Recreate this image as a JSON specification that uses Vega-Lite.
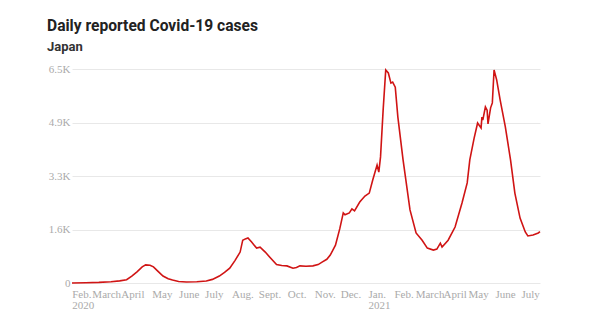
{
  "$schema": "https://vega.github.io/schema/vega-lite/v6.json",
  "autosize": {"type": "none"},
  "padding": {"left": 72, "top": 69, "right": 60, "bottom": 38},
  "width": 468,
  "height": 214,
  "background": "white",
  "title": {
    "text": "Daily reported Covid-19 cases",
    "subtitle": "Japan",
    "anchor": "start",
    "frame": "group",
    "dx": -25,
    "offset": 9,
    "font": "Roboto",
    "fontSize": 15.6,
    "fontWeight": "bold",
    "color": "#222222",
    "subtitleFont": "Roboto",
    "subtitleFontSize": 13,
    "subtitleFontWeight": "bold",
    "subtitleColor": "#333333",
    "subtitlePadding": 6
  },
  "config": {"view": {"stroke": null}},
  "data": {
    "values": [
      {"date": "2020-01-30", "cases": 2},
      {"date": "2020-02-15", "cases": 8},
      {"date": "2020-03-01", "cases": 18},
      {"date": "2020-03-15", "cases": 38},
      {"date": "2020-03-25", "cases": 65},
      {"date": "2020-04-02", "cases": 100},
      {"date": "2020-04-08", "cases": 210},
      {"date": "2020-04-14", "cases": 340},
      {"date": "2020-04-20", "cases": 490},
      {"date": "2020-04-24", "cases": 550},
      {"date": "2020-04-29", "cases": 540},
      {"date": "2020-05-03", "cases": 490},
      {"date": "2020-05-08", "cases": 360},
      {"date": "2020-05-14", "cases": 210},
      {"date": "2020-05-20", "cases": 130},
      {"date": "2020-05-25", "cases": 90},
      {"date": "2020-06-01", "cases": 45},
      {"date": "2020-06-10", "cases": 30},
      {"date": "2020-06-22", "cases": 40},
      {"date": "2020-07-03", "cases": 60},
      {"date": "2020-07-10", "cases": 110},
      {"date": "2020-07-18", "cases": 210},
      {"date": "2020-07-24", "cases": 320},
      {"date": "2020-07-30", "cases": 450},
      {"date": "2020-08-05", "cases": 680},
      {"date": "2020-08-11", "cases": 940},
      {"date": "2020-08-14", "cases": 1300},
      {"date": "2020-08-17", "cases": 1340},
      {"date": "2020-08-20", "cases": 1370},
      {"date": "2020-08-24", "cases": 1250},
      {"date": "2020-08-30", "cases": 1060},
      {"date": "2020-09-03", "cases": 1090},
      {"date": "2020-09-09", "cases": 940},
      {"date": "2020-09-14", "cases": 790},
      {"date": "2020-09-22", "cases": 560},
      {"date": "2020-09-28", "cases": 530},
      {"date": "2020-10-04", "cases": 520},
      {"date": "2020-10-11", "cases": 450},
      {"date": "2020-10-15", "cases": 470},
      {"date": "2020-10-19", "cases": 520},
      {"date": "2020-10-26", "cases": 510},
      {"date": "2020-11-03", "cases": 520},
      {"date": "2020-11-09", "cases": 560},
      {"date": "2020-11-14", "cases": 640},
      {"date": "2020-11-19", "cases": 720},
      {"date": "2020-11-23", "cases": 850},
      {"date": "2020-11-29", "cases": 1150},
      {"date": "2020-12-04", "cases": 1650},
      {"date": "2020-12-08", "cases": 2130},
      {"date": "2020-12-10", "cases": 2070},
      {"date": "2020-12-15", "cases": 2130},
      {"date": "2020-12-18", "cases": 2250},
      {"date": "2020-12-21", "cases": 2190},
      {"date": "2020-12-27", "cases": 2460},
      {"date": "2021-01-02", "cases": 2640},
      {"date": "2021-01-07", "cases": 2730},
      {"date": "2021-01-11", "cases": 3130},
      {"date": "2021-01-16", "cases": 3580},
      {"date": "2021-01-18", "cases": 3370},
      {"date": "2021-01-20", "cases": 3830},
      {"date": "2021-01-23", "cases": 5250},
      {"date": "2021-01-26", "cases": 6470},
      {"date": "2021-01-29", "cases": 6380},
      {"date": "2021-02-01", "cases": 6070},
      {"date": "2021-02-03", "cases": 6100},
      {"date": "2021-02-06", "cases": 5950},
      {"date": "2021-02-09", "cases": 5040},
      {"date": "2021-02-15", "cases": 3740},
      {"date": "2021-02-23", "cases": 2220},
      {"date": "2021-03-02", "cases": 1520},
      {"date": "2021-03-09", "cases": 1300},
      {"date": "2021-03-15", "cases": 1060},
      {"date": "2021-03-22", "cases": 1000},
      {"date": "2021-03-26", "cases": 1030},
      {"date": "2021-03-30", "cases": 1210},
      {"date": "2021-04-01", "cases": 1090},
      {"date": "2021-04-08", "cases": 1300},
      {"date": "2021-04-16", "cases": 1700},
      {"date": "2021-04-24", "cases": 2430},
      {"date": "2021-04-30", "cases": 3040},
      {"date": "2021-05-03", "cases": 3740},
      {"date": "2021-05-08", "cases": 4400},
      {"date": "2021-05-12", "cases": 4860},
      {"date": "2021-05-16", "cases": 4710},
      {"date": "2021-05-17", "cases": 5040},
      {"date": "2021-05-18", "cases": 4950},
      {"date": "2021-05-21", "cases": 5350},
      {"date": "2021-05-23", "cases": 5250},
      {"date": "2021-05-24", "cases": 4830},
      {"date": "2021-05-27", "cases": 5320},
      {"date": "2021-05-29", "cases": 5470},
      {"date": "2021-05-31", "cases": 6470},
      {"date": "2021-06-03", "cases": 6170},
      {"date": "2021-06-07", "cases": 5560},
      {"date": "2021-06-13", "cases": 4740},
      {"date": "2021-06-19", "cases": 3740},
      {"date": "2021-06-24", "cases": 2730},
      {"date": "2021-06-30", "cases": 1970},
      {"date": "2021-07-06", "cases": 1550},
      {"date": "2021-07-09", "cases": 1430},
      {"date": "2021-07-15", "cases": 1460},
      {"date": "2021-07-21", "cases": 1520},
      {"date": "2021-07-23", "cases": 1560}
    ]
  },
  "mark": {"type": "line", "color": "#d01414", "strokeWidth": 1.6, "interpolate": "linear"},
  "encoding": {
    "x": {
      "field": "date",
      "type": "temporal",
      "scale": {
        "type": "utc",
        "domain": [
          {"year": 2020, "month": 1, "date": 30, "utc": true},
          {"year": 2021, "month": 7, "date": 23, "utc": true}
        ]
      },
      "axis": {
        "title": null,
        "grid": false,
        "domain": false,
        "ticks": false,
        "tickCount": {"interval": "month", "step": 1},
        "labelAlign": "left",
        "labelBaseline": "top",
        "labelPadding": 5,
        "labelFont": "Liberation Serif",
        "labelFontSize": 11,
        "labelColor": "#aaaaaa",
        "labelLineHeight": 11,
        "labelOverlap": false,
        "labelFlush": false,
        "labelBound": false,
        "labelOffset": {
          "condition": [
            {"test": "utcyear(datum.value)==2020 && utcmonth(datum.value)==1", "value": -2},
            {"test": "utcyear(datum.value)==2020 && utcmonth(datum.value)==2", "value": -7},
            {"test": "utcyear(datum.value)==2020 && utcmonth(datum.value)==3", "value": -5},
            {"test": "utcyear(datum.value)==2020 && utcmonth(datum.value)>=9", "value": 3},
            {"test": "utcyear(datum.value)==2021 && utcmonth(datum.value)==0", "value": 4},
            {"test": "utcyear(datum.value)==2021 && utcmonth(datum.value)==1", "value": 3},
            {"test": "utcyear(datum.value)==2021 && utcmonth(datum.value)==3", "value": 1}
          ],
          "value": 0
        },
        "labelExpr": "(utcmonth(datum.value)==1 && utcyear(datum.value)==2020) ? ['Feb.','2020'] : (utcmonth(datum.value)==0 ? ['Jan.', '' + utcyear(datum.value)] : ['Jan.','Feb.','March','April','May','June','July','Aug.','Sept.','Oct.','Nov.','Dec.'][utcmonth(datum.value)])"
      }
    },
    "y": {
      "field": "cases",
      "type": "quantitative",
      "scale": {"domain": [0, 6500], "nice": false},
      "axis": {
        "title": null,
        "domain": false,
        "ticks": false,
        "values": [0, 1625, 3250, 4875, 6500],
        "gridColor": "#e8e8e8",
        "gridWidth": 1,
        "labelPadding": 2,
        "labelFont": "Liberation Serif",
        "labelFontSize": 11,
        "labelColor": "#aaaaaa",
        "labelExpr": "datum.value == 0 ? '0' : format(datum.value / 1000, '.1f') + 'K'"
      }
    }
  }
}
